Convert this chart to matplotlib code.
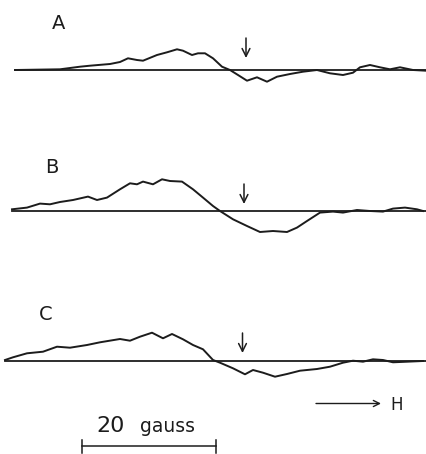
import numpy as np
import matplotlib.pyplot as plt

# ESR derivative traces, field position vs signal (above baseline = positive)
field_a = [15, 60, 80, 90, 110, 120, 128, 137, 143, 157, 167, 177, 183, 192, 198, 205,
           213, 222, 230, 238, 247, 257, 267, 277, 290, 303, 317, 330, 343, 353, 360,
           370, 380, 390, 400, 413, 426]
sig_a = [0, 0.7, 3.3, 4.3, 6, 8, 11.7, 10, 9.3, 15, 17.7, 20.7, 19.3, 15, 16.7, 16.7,
         11.7, 3.3, 0, -5, -10.7, -7.3, -11.7, -6.7, -4, -1.7, 0, -3.3, -5, -2.7, 2.7,
         5, 2.7, 0.7, 2.7, 0, -0.7]

field_b = [12, 27, 40, 50, 60, 73, 88, 97, 107, 120, 130, 137, 143, 153, 162, 170, 182,
           193, 203, 213, 220, 233, 247, 260, 273, 287, 297, 307, 320, 333, 343, 357,
           370, 383, 393, 405, 417, 423]
sig_b = [1.7, 3.4, 7.4, 6.7, 9, 11, 14.4, 11, 13.4, 21.7, 27.7, 26.7, 29.4, 26.7, 31.7,
         30, 29.4, 21.7, 13.4, 5, 0, -8.3, -15, -21, -20, -21, -16.6, -10, -1.6, -0.6,
         -1.6, 1, 0, -0.6, 2.4, 3.4, 1.7, 0]

field_c = [5, 13, 27, 43, 57, 70, 87, 100, 120, 130, 140, 152, 163, 172, 183, 193, 203,
           213, 220, 233, 245, 253, 263, 275, 287, 300, 317, 330, 343, 353, 363, 373,
           383, 393, 407, 423]
sig_c = [1, 3.7, 7.7, 9.3, 14.3, 13.3, 16, 18.7, 22, 20.3, 24.3, 28.3, 22.7, 27, 21.7,
         16, 11.7, 1, -1.7, -7.3, -13.3, -9, -11.7, -15.7, -13, -9.7, -8, -5.7, -1.7,
         0.3, -0.7, 1.7, 1, -1.3, -0.7, 0]

labels = ["A", "B", "C"]
baselines = [70, 211, 361]
label_pos = [(59, 29), (52, 173), (46, 320)]
# field marker arrows: x, tail height, tip height above baseline
markers = [(246, 32, 12), (244, 27, 7), (242.5, 28, 8)]

fig = plt.figure(figsize=(4.26, 4.54), dpi=100)
ax = fig.add_axes([0, 0, 1, 1])
ax.set_xlim(0, 426)
ax.set_ylim(454, 0)
ax.axis("off")

ink = "#1c1c1c"
traces = [(field_a, sig_a), (field_b, sig_b), (field_c, sig_c)]
for (fx, sy), base, lab, (lx, ly), (mx, mt, mh) in zip(traces, baselines, labels,
                                                        label_pos, markers):
    fx = np.array(fx)
    sy = np.array(sy)
    ax.plot([fx[0], 426], [base, base], color=ink, lw=1.3)
    ax.plot(fx, base - sy, color=ink, lw=1.4)
    ax.annotate("", xy=(mx, base - mh), xytext=(mx, base - mt),
                arrowprops=dict(arrowstyle="->", color=ink, lw=1.1,
                                mutation_scale=14, shrinkA=0, shrinkB=0))
    ax.text(lx, ly, lab, fontsize=14, color=ink, ha="center", va="baseline")

# 20 gauss scale bar
ax.plot([82, 216], [446, 446], color=ink, lw=1.1)
ax.plot([82, 82], [440, 453], color=ink, lw=1.1)
ax.plot([216, 216], [440, 453], color=ink, lw=1.1)
ax.text(96, 431.5, "20", fontsize=16, color=ink, ha="left", va="baseline")
ax.text(140, 432, "gauss", fontsize=13.5, color=ink, ha="left", va="baseline")

# field direction
ax.annotate("", xy=(381, 403.5), xytext=(316, 403.5),
            arrowprops=dict(arrowstyle="->", color=ink, lw=1.0,
                            mutation_scale=11, shrinkA=0, shrinkB=0))
ax.text(390, 410, "H", fontsize=12, color=ink, ha="left", va="baseline")

fig.savefig("out.png", dpi=100)
